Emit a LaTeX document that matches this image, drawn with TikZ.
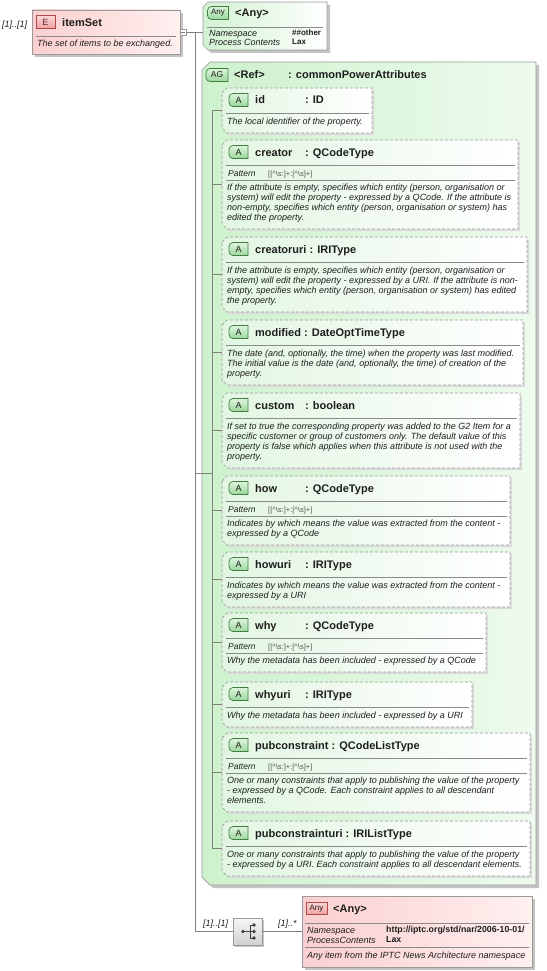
\documentclass[tikz,border=0pt]{standalone}
\usepackage{fontspec}
\setmainfont{Liberation Sans}
\usetikzlibrary{calc}
\definecolor{bordc}{HTML}{9A9A9A}
\definecolor{linec}{HTML}{808080}
\definecolor{sepc}{HTML}{8A8A8A}
\definecolor{txtc}{HTML}{1E1E1E}
\definecolor{agL}{HTML}{CDF1CD}
\definecolor{agR}{HTML}{EEFBEE}
\definecolor{atL}{HTML}{E2F6E2}
\definecolor{anyL}{HTML}{D2F2D2}
\definecolor{elL}{HTML}{FBCFCF}
\definecolor{elR}{HTML}{FFF0F0}
\definecolor{shadc}{HTML}{C4C4C4}
\definecolor{ashadc}{HTML}{DCDCDC}
\definecolor{gbL}{HTML}{DDF5DD}
\definecolor{gbD}{HTML}{9CD69C}
\definecolor{gbB}{HTML}{3E7E3E}
\definecolor{rbL}{HTML}{FCD6D6}
\definecolor{rbD}{HTML}{F0A0A0}
\definecolor{rbB}{HTML}{B04A4A}
\definecolor{patc}{HTML}{555555}
\definecolor{seqL}{HTML}{F6F6F6}
\definecolor{seqD}{HTML}{D0D0D0}

\newcommand{\cutpath}[2]{($(#1.north west)+(0,#2)$) -- ($(#1.north west)+(#2,0)$) -- (#1.north east) -- (#1.south east) -- ($(#1.south west)+(#2,0)$) -- ($(#1.south west)+(0,-#2)$) -- cycle}

\newcommand{\gbadge}[5]{%
  \node[boxn, minimum width=#5pt, minimum height=13pt] (#1) at (#2,{#3}) {};
  \shade[top color=gbL, bottom color=gbD] (#1.north east) [rounded corners=4pt] -- (#1.north west) -- (#1.south west) [sharp corners] -- (#1.south east) -- cycle;
  \draw[gbB, line width=0.7pt] (#1.north east) [rounded corners=4pt] -- (#1.north west) -- (#1.south west) [sharp corners] -- (#1.south east) -- cycle;
  \node[inner sep=0pt, font=\fontsize{9}{10}\selectfont, text=txtc] (#1t) at (#1.center) {#4};
}

\newcommand{\mkattr}[4]{%
  \node[boxn, minimum width={#4-222}, minimum height={#3}, anchor=north west] (#1) at (222,#2) {};
  \fill[ashadc, transform canvas={shift={(2,2)}}] \cutpath{#1}{5};
  \shade[left color=atL, right color=white] \cutpath{#1}{5};
  \draw[attbord] \cutpath{#1}{5};
  \gbadge{#1b}{238.5}{#2+12}{A}{19}
  \draw[sep] (226,{#2+25}) -- ({#4-3},{#2+25});
  \draw[conn] (#1.west -| bus) -- (#1.west);
}

\newcommand{\patrow}[3]{%
  \node[lbl, font=\fontsize{8.5}{10}\selectfont\itshape] (#1pl) at (228,{#2+36}) {Pattern};
  \node[patv] (#1pv) at (268,{#2+36}) {[[\textasciicircum\textbackslash s:]+:[\textasciicircum\textbackslash s]+]};
  \draw[sep] (226,{#2+40}) -- ({#3-3},{#2+40});
}

\begin{document}
\begin{tikzpicture}[x=1pt,y=-1pt,
  boxn/.style={draw=none, inner sep=0pt, outer sep=0pt, rectangle},
  conn/.style={draw=linec, line width=0.6pt},
  sep/.style={draw=sepc, line width=0.6pt},
  attbord/.style={draw=bordc, line width=0.7pt, dash pattern=on 3pt off 2pt},
  solbord/.style={draw=bordc, line width=0.7pt},
  hdr/.style={inner sep=0pt, font=\fontsize{11}{13}\selectfont\bfseries, text=txtc, anchor=base west},
  desc/.style={inner sep=0pt, font=\fontsize{9}{10}\selectfont\itshape, text=txtc, align=left, anchor=north west},
  lbl/.style={inner sep=0pt, font=\fontsize{9}{10}\selectfont\itshape, text=txtc, anchor=base west},
  val/.style={inner sep=0pt, font=\fontsize{8}{9}\selectfont\bfseries, text=txtc, anchor=base west},
  patv/.style={inner sep=0pt, font=\fontsize{7.5}{9}\selectfont, text=patc, anchor=base west},
  ]
\useasboundingbox (0,0) rectangle (546,971);
\fill[white] (0,0) rectangle (546,971);
\coordinate (trunk) at (195,0);
\coordinate (bus) at (212,0);

% ---------- itemSet element ----------
\node[lbl] (itemcard) at (2,28) {[1]..[1]};
\node[boxn, minimum width=148pt, minimum height=44pt, anchor=north west] (item) at (32,10) {};
\fill[shadc, transform canvas={shift={(3,3)}}] (item.north west) rectangle (item.south east);
\shade[left color=elL, right color=elR] (item.north west) rectangle (item.south east);
\draw[solbord] (item.north west) rectangle (item.south east);
\node[boxn, minimum width=19pt, minimum height=13pt] (itemb) at (45.5,22) {};
\shade[top color=rbL, bottom color=rbD] (itemb.north west) rectangle (itemb.south east);
\draw[rbB, line width=0.7pt] (itemb.north west) rectangle (itemb.south east);
\node[inner sep=0pt, font=\fontsize{9}{10}\selectfont, text=rbB!55!black] (itembt) at (itemb.center) {E};
\node[hdr] (itemn) at (62,27) {itemSet};
\draw[sep] (36,36) -- (176,36);
\node[lbl] (itemd) at (37,47) {The set of items to be exchanged.};
\node[draw=bordc, fill=white, minimum size=6pt, inner sep=0pt, line width=0.6pt] (minus) at (183,32) {};
\draw[linec, line width=0.6pt] ($(minus.west)+(1.2,0)$) -- ($(minus.east)+(-1.2,0)$);

% ---------- top Any attribute ----------
\node[boxn, minimum width=124pt, minimum height=48pt, anchor=north west] (anyTop) at (203,2) {};
\fill[shadc, transform canvas={shift={(3,3)}}] \cutpath{anyTop}{5};
\shade[left color=anyL, right color=white] \cutpath{anyTop}{5};
\draw[solbord] \cutpath{anyTop}{5};
\gbadge{anyTopb}{218}{13}{\fontsize{8}{9}\selectfont Any}{21}
\node[hdr] (anyTopn) at (235,17) {<Any>};
\draw[sep] (207,27) -- (323,27);
\node[lbl] (anyTopl1) at (209,37) {Namespace};
\node[lbl] (anyTopl2) at (209,46) {Process Contents};
\node[val] (anyTopv1) at (292,36) {\#\#other};
\node[val] (anyTopv2) at (292,45) {Lax};

% ---------- attribute group ----------
\node[boxn, minimum width=334pt, minimum height=823pt, anchor=north west] (ag) at (202,62) {};
\fill[shadc, transform canvas={shift={(3,3)}}] \cutpath{ag}{8};
\shade[left color=agL, right color=agR] \cutpath{ag}{8};
\draw[solbord] \cutpath{ag}{8};
\gbadge{agb}{217}{75}{\fontsize{8.5}{9}\selectfont AG}{22}
\node[hdr] (agr) at (234,79) {<Ref>};
\node[hdr] (agt) at (288,79) {: commonPowerAttributes};

\draw[conn] (minus.east) -- (minus.east -| anyTop.west);
\draw[conn] (ag.west -| trunk) -- (ag.west -| bus);

% ---------- attributes ----------
\mkattr{id}{88}{45}{372}
\node[hdr] (idn) at (255,104) {id};
\node[hdr] (idt) at (305,104) {: ID};
\node[desc] (idd) at (227,117.5) {\rule{0pt}{7pt}The local identifier of the property.};

\mkattr{cr}{140}{89}{518}
\node[hdr] (crn) at (255,156) {creator};
\node[hdr] (crt) at (305,156) {: QCodeType};
\patrow{cr}{140}{518}
\node[desc] (crd) at (227,183.5) {\rule{0pt}{7pt}If the attribute is empty, specifies which entity (person, organisation or\\system) will edit the property - expressed by a QCode. If the attribute is\\non-empty, specifies which entity (person, organisation or system) has\\edited the property.};

\mkattr{cu}{237}{75}{527}
\node[hdr] (cun) at (255,253) {creatoruri : IRIType};
\node[desc] (cud) at (227,266.5) {\rule{0pt}{7pt}If the attribute is empty, specifies which entity (person, organisation or\\system) will edit the property - expressed by a URI. If the attribute is non-\\empty, specifies which entity (person, organisation or system) has edited\\the property.};

\mkattr{mo}{320}{65}{523}
\node[hdr] (mon) at (255,336) {modified : DateOptTimeType};
\node[desc] (mod) at (227,349.5) {\rule{0pt}{7pt}The date (and, optionally, the time) when the property was last modified.\\The initial value is the date (and, optionally, the time) of creation of the\\property.};

\mkattr{cs}{393}{75}{520}
\node[hdr] (csn) at (255,409) {custom};
\node[hdr] (cst) at (305,409) {: boolean};
\node[desc] (csd) at (227,422.5) {\rule{0pt}{7pt}If set to true the corresponding property was added to the G2 Item for a\\specific customer or group of customers only. The default value of this\\property is false which applies when this attribute is not used with the\\property.};

\mkattr{ho}{476}{69}{510}
\node[hdr] (hon) at (255,492) {how};
\node[hdr] (hot) at (305,492) {: QCodeType};
\patrow{ho}{476}{510}
\node[desc] (hod) at (227,519.5) {\rule{0pt}{7pt}Indicates by which means the value was extracted from the content -\\expressed by a QCode};

\mkattr{hu}{552}{55}{510}
\node[hdr] (hun) at (255,568) {howuri};
\node[hdr] (hut) at (305,568) {: IRIType};
\node[desc] (hud) at (227,581.5) {\rule{0pt}{7pt}Indicates by which means the value was extracted from the content -\\expressed by a URI};

\mkattr{wy}{613}{59}{486}
\node[hdr] (wyn) at (255,629) {why};
\node[hdr] (wyt) at (305,629) {: QCodeType};
\patrow{wy}{613}{486}
\node[desc] (wyd) at (227,656.5) {\rule{0pt}{7pt}Why the metadata has been included - expressed by a QCode};

\mkattr{wu}{682}{45}{472}
\node[hdr] (wun) at (255,698) {whyuri};
\node[hdr] (wut) at (305,698) {: IRIType};
\node[desc] (wud) at (227,711.5) {\rule{0pt}{7pt}Why the metadata has been included - expressed by a URI};

\mkattr{pc}{733}{79}{530}
\node[hdr] (pcn) at (255,749) {pubconstraint : QCodeListType};
\patrow{pc}{733}{530}
\node[desc] (pcd) at (227,776.5) {\rule{0pt}{7pt}One or many constraints that apply to publishing the value of the property\\- expressed by a QCode. Each constraint applies to all descendant\\elements.};

\mkattr{pu}{821}{55}{530}
\node[hdr] (pun) at (255,837) {pubconstrainturi : IRIListType};
\node[desc] (pud) at (227,850.5) {\rule{0pt}{7pt}One or many constraints that apply to publishing the value of the property\\- expressed by a URI. Each constraint applies to all descendant elements.};

\draw[conn] (id.west -| bus) -- (pu.west -| bus);

% ---------- sequence ----------
\node[boxn, minimum width=29pt, minimum height=27pt, anchor=north west] (seq) at (233,918) {};
\fill[shadc, transform canvas={shift={(2,2)}}] (seq.north west) rectangle (seq.south east);
\shade[top color=seqL, bottom color=seqD] (seq.north west) rectangle (seq.south east);
\draw[solbord] (seq.north west) rectangle (seq.south east);
\fill[black!75] (243,931.5) circle (1.8);
\draw[black!75, line width=0.8pt] (243,931.5) -- (250,931.5) (250,925) -- (250,938) (250,925) -- (254,925) (250,938) -- (254,938) (250,931.5) -- (254,931.5);
\fill[black!75] (254,925) circle (1.8) (254,931.5) circle (1.8) (254,938) circle (1.8);
\node[lbl] (seqin) at (203,926) {[1]..[1]};
\node[lbl] (seqout) at (278,926) {[1]..*};
\draw[conn] (minus.east -| trunk) -- (trunk |- seq.west) -- (seq.west);

% ---------- bottom Any element ----------
\node[boxn, minimum width=230pt, minimum height=71pt, anchor=north west] (anyBot) at (302,896) {};
\fill[shadc, transform canvas={shift={(3,3)}}] (anyBot.north west) rectangle (anyBot.south east);
\shade[left color=elL, right color=elR] (anyBot.north west) rectangle (anyBot.south east);
\draw[solbord] (anyBot.north west) rectangle (anyBot.south east);
\node[boxn, minimum width=21pt, minimum height=12pt] (anyBotb) at (316.5,908.5) {};
\shade[top color=rbL, bottom color=rbD] (anyBotb.north west) rectangle (anyBotb.south east);
\draw[rbB, line width=0.7pt] (anyBotb.north west) rectangle (anyBotb.south east);
\node[inner sep=0pt, font=\fontsize{8}{9}\selectfont, text=txtc] (anyBotbt) at (anyBotb.center) {Any};
\node[hdr] (anyBotn) at (333,912) {<Any>};
\draw[sep] (305,923) -- (529,923);
\node[lbl] (anyBotl1) at (307,933) {Namespace};
\node[lbl] (anyBotl2) at (307,943) {ProcessContents};
\node[val, font=\fontsize{8.8}{10}\selectfont\bfseries] (anyBotv1) at (386,932) {http://iptc.org/std/nar/2006-10-01/};
\node[val, font=\fontsize{8.8}{10}\selectfont\bfseries] (anyBotv2) at (386,942) {Lax};
\draw[sep] (305,947) -- (529,947);
\node[lbl] (anyBotd) at (307,958) {Any item from the IPTC News Architecture namespace};
\draw[conn] (seq.east) -- (seq.east -| anyBot.west);
\end{tikzpicture}
\end{document}
